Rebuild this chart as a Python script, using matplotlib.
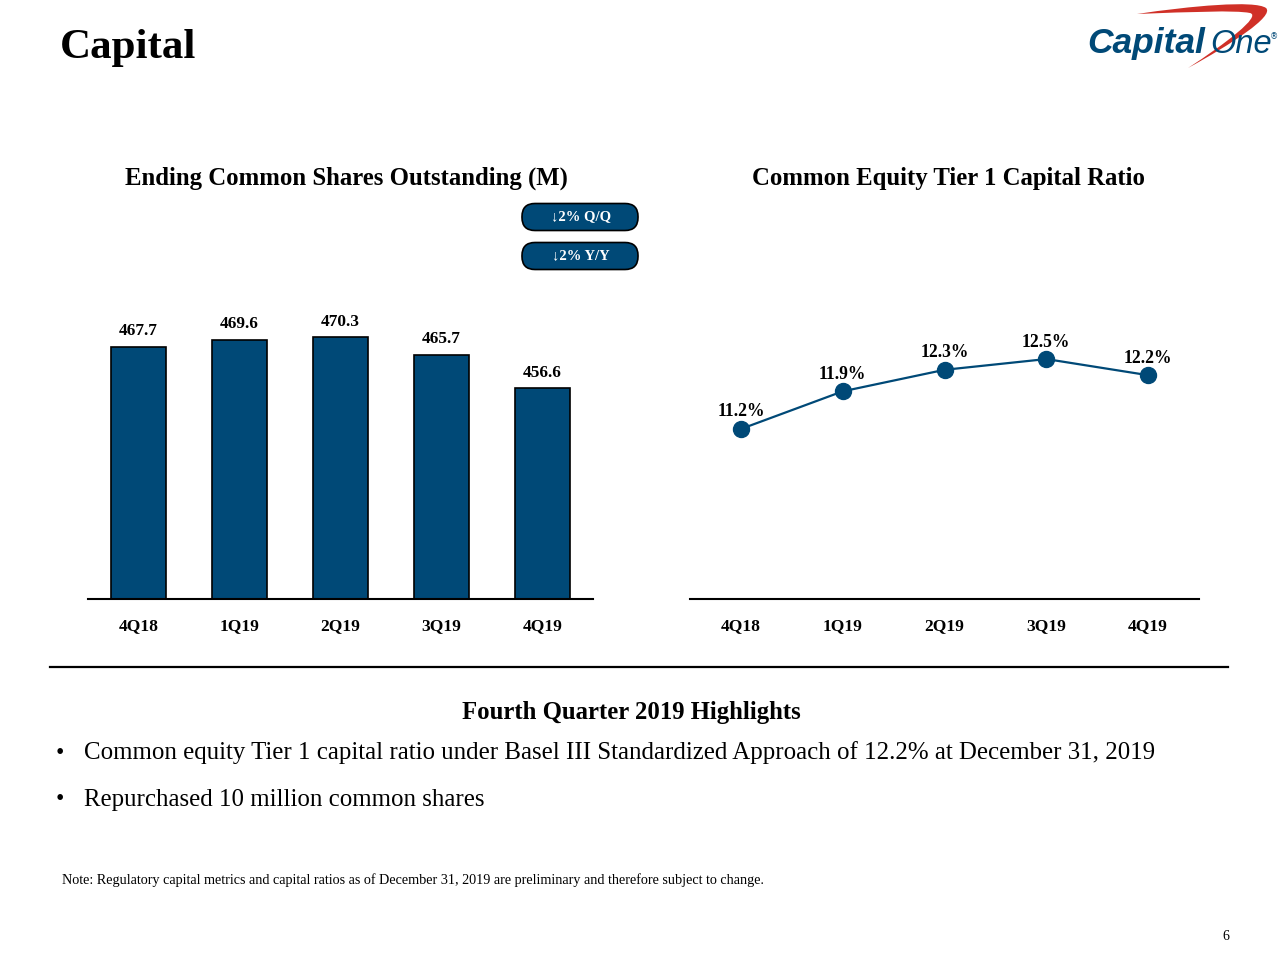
import matplotlib
matplotlib.use("Agg")
import matplotlib.pyplot as plt
from matplotlib.patches import FancyBboxPatch, PathPatch
from matplotlib.path import Path
from matplotlib.transforms import IdentityTransform

# ---------------- data ----------------
quarters = ['4Q18', '1Q19', '2Q19', '3Q19', '4Q19']
shares = [467.7, 469.6, 470.3, 465.7, 456.6]
cet1 = [11.2, 11.9, 12.3, 12.5, 12.2]
share_labels = ['467.7', '469.6', '470.3', '465.7', '456.6']
cet1_labels = ['11.2%', '11.9%', '12.3%', '12.5%', '12.2%']
badges = ['\u21932% Q/Q', '\u21932% Y/Y']
page_title = 'Capital'
left_title = 'Ending Common Shares Outstanding (M)'
right_title = 'Common Equity Tier 1 Capital Ratio'
highlights_title = 'Fourth Quarter 2019 Highlights'
bullets = ['Common equity Tier 1 capital ratio under Basel III Standardized Approach of 12.2% at December 31, 2019',
           'Repurchased 10 million common shares']
note = 'Note: Regulatory capital metrics and capital ratios as of December 31, 2019 are preliminary and therefore subject to change.'
page_no = '6'

BLUE = '#004977'
RED = '#D03027'
SERIF = ['Liberation Serif', 'DejaVu Serif']

plt.rcParams['font.family'] = SERIF

W, H = 1280, 960
fig = plt.figure(figsize=(12.8, 9.6), dpi=100)


def fx(x):
    return x / W


def fy(y):
    return 1 - y / H


def ax_rect(x0, x1, ytop, ybot):
    return [fx(x0), fy(ybot), (x1 - x0) / W, (ybot - ytop) / H]


# ---------------- page title & logo ----------------
fig.text(fx(60), fy(48), page_title, fontsize=31, fontweight='bold', va='center', ha='left')

# logo swoosh (pixel coordinates, y up)
def P(x, y):
    return (x, H - y)

verts = [P(1137, 14), P(1190, 6), P(1255, 0), P(1266, 8),
         P(1275, 16), P(1230, 45), P(1188, 68),
         P(1225, 44), P(1262, 16), P(1250, 13),
         P(1235, 10), P(1190, 12), P(1137, 14), P(1137, 14)]
codes = [Path.MOVETO, Path.CURVE4, Path.CURVE4, Path.CURVE4,
         Path.CURVE4, Path.CURVE4, Path.CURVE4,
         Path.CURVE4, Path.CURVE4, Path.CURVE4,
         Path.CURVE4, Path.CURVE4, Path.CURVE4, Path.CLOSEPOLY]
fig.patches.append(PathPatch(Path(verts, codes), transform=IdentityTransform(),
                             facecolor=RED, edgecolor='none', zorder=1))
fig.text(fx(1087), fy(53), 'Capital', fontsize=25.5, fontweight='bold', style='italic',
         family=['Liberation Sans', 'DejaVu Sans'], color=BLUE, va='baseline', ha='left', zorder=3)
fig.text(fx(1210), fy(53), 'One', fontsize=23.5, style='italic',
         family=['Liberation Sans', 'DejaVu Sans'], color=BLUE, va='baseline', ha='left', zorder=3)
fig.text(fx(1274), fy(37), '\u00ae', fontsize=6, color=BLUE, va='center', ha='center',
         family=['DejaVu Sans'], zorder=3)

# ---------------- chart titles ----------------
fig.text(fx(346), fy(178), left_title, fontsize=17.8, fontweight='bold', ha='center', va='center')
fig.text(fx(949), fy(178), right_title, fontsize=17.8, fontweight='bold', ha='center', va='center')

# badges
for i, t in enumerate(badges):
    yc = 217 + i * 39
    box = FancyBboxPatch((522, H - yc - 13.5), 116, 27,
                         boxstyle='round,pad=0,rounding_size=13',
                         transform=IdentityTransform(), facecolor=BLUE,
                         edgecolor='black', linewidth=1.2)
    fig.patches.append(box)
    fig.text(fx(581), fy(yc), t, fontsize=10.5, fontweight='bold', color='white',
             ha='center', va='center', family=SERIF)

# ---------------- bar chart ----------------
AX_TOP, AX_BOT = 300, 599
ax1 = fig.add_axes(ax_rect(88, 593, AX_TOP, AX_BOT))
x = list(range(len(quarters)))
bars = ax1.bar(x, shares, width=0.545, color=BLUE, edgecolor='black', linewidth=1.2)
ax1.set_ylim(400, 400 + (AX_BOT - AX_TOP) / 3.72)
ax1.set_xlim(-0.5, 4.5)
for xi, v, lab in zip(x, shares, share_labels):
    ax1.annotate(lab, (xi, v), xytext=(0, 8.5), textcoords='offset points',
                 ha='center', va='baseline', fontsize=12.4, fontweight='bold')

# ---------------- line chart ----------------
ax2 = fig.add_axes(ax_rect(690, 1199, AX_TOP, AX_BOT))
ax2.plot(x, cet1, color=BLUE, linewidth=1.6, marker='o', markersize=11.5,
         markerfacecolor=BLUE, markeredgecolor=BLUE)
ax2.set_ylim(8.04, 8.04 + (AX_BOT - AX_TOP) / 53.8)
ax2.set_xlim(-0.5, 4.5)
for xi, v, lab in zip(x, cet1, cet1_labels):
    ax2.annotate(lab, (xi, v), xytext=(0, 9), textcoords='offset points',
                 ha='center', va='baseline', fontsize=12.7, fontweight='bold')

for ax in (ax1, ax2):
    ax.set_facecolor('none')
    for s in ('top', 'left', 'right'):
        ax.spines[s].set_visible(False)
    ax.spines['bottom'].set_linewidth(1.5)
    ax.spines['bottom'].set_color('black')
    ax.set_yticks([])
    ax.set_xticks(x)
    ax.set_xticklabels(quarters, fontsize=12.6, fontweight='bold')
    ax.tick_params(axis='x', length=0, pad=14)

# ---------------- separator & highlights ----------------
fig.add_artist(plt.Line2D([fx(50), fx(1228)], [fy(667), fy(667)], color='black', linewidth=1.6))
fig.text(fx(631), fy(713), highlights_title, fontsize=17.8, fontweight='bold', ha='center', va='center')
for i, b in enumerate(bullets):
    yb = 753 + i * 47
    fig.text(fx(60), fy(yb), '\u2022', fontsize=17, ha='center', va='center')
    fig.text(fx(84), fy(yb), b, fontsize=17.9, ha='left', va='center')

fig.text(fx(62), fy(880), note, fontsize=10.2, ha='left', va='center')
fig.text(fx(1226), fy(937), page_no, fontsize=10, ha='center', va='center')

fig.savefig('out.png', dpi=100, facecolor='white')
